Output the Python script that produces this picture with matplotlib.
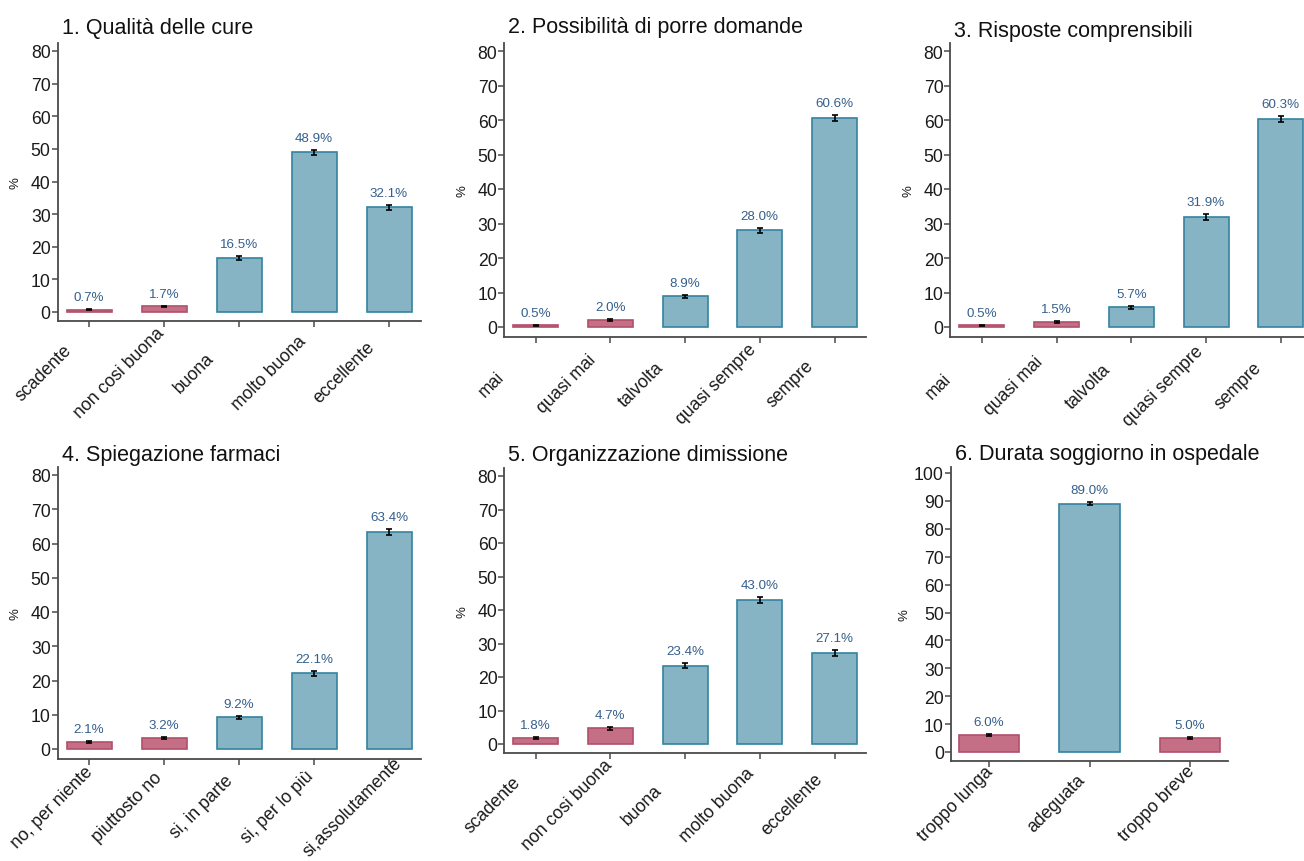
import matplotlib
matplotlib.use("Agg")
import matplotlib.pyplot as plt
from matplotlib.transforms import ScaledTranslation

plt.rcParams["font.family"] = ["Liberation Sans", "DejaVu Sans"]

# ---------------------------------------------------------------- data
titles = [
    "1. Qualità delle cure",
    "2. Possibilità di porre domande",
    "3. Risposte comprensibili",
    "4. Spiegazione farmaci",
    "5. Organizzazione dimissione",
    "6. Durata soggiorno in ospedale",
]

cat_qualita = ["scadente", "non cosi buona", "buona", "molto buona", "eccellente"]
cat_frequenza = ["mai", "quasi mai", "talvolta", "quasi sempre", "sempre"]
cat_farmaci = ["no, per niente", "piuttosto no", "si, in parte", "si, per lo più",
               "si,assolutamente"]
cat_durata = ["troppo lunga", "adeguata", "troppo breve"]

pct_cure = [0.7, 1.7, 16.5, 48.9, 32.1]
pct_domande = [0.5, 2.0, 8.9, 28.0, 60.6]
pct_risposte = [0.5, 1.5, 5.7, 31.9, 60.3]
pct_farmaci = [2.1, 3.2, 9.2, 22.1, 63.4]
pct_dimissione = [1.8, 4.7, 23.4, 43.0, 27.1]
pct_durata = [6.0, 89.0, 5.0]

# half-width of the confidence interval, in percentage points
ci_cure = [0.15, 0.25, 0.6, 0.85, 0.8]
ci_domande = [0.15, 0.25, 0.5, 0.8, 0.85]
ci_risposte = [0.15, 0.22, 0.4, 0.8, 0.85]
ci_farmaci = [0.25, 0.3, 0.5, 0.8, 0.9]
ci_dimissione = [0.25, 0.4, 0.8, 0.95, 0.85]
ci_durata = [0.4, 0.5, 0.4]

negative_answers = {"scadente", "non cosi buona", "mai", "quasi mai",
                    "no, per niente", "piuttosto no", "troppo lunga", "troppo breve"}

panels = [
    (titles[0], cat_qualita, pct_cure, ci_cure),
    (titles[1], cat_frequenza, pct_domande, ci_domande),
    (titles[2], cat_frequenza, pct_risposte, ci_risposte),
    (titles[3], cat_farmaci, pct_farmaci, ci_farmaci),
    (titles[4], cat_qualita, pct_dimissione, ci_dimissione),
    (titles[5], cat_durata, pct_durata, ci_durata),
]

# ---------------------------------------------------------------- style
W, H, DPI = 1304, 862, 100
POS_FILL, POS_EDGE = "#87b4c4", "#3383a0"
NEG_FILL, NEG_EDGE = "#c56f86", "#b24f6b"
VALUE_COLOR = "#355f8c"
AXIS_COLOR = "#4a4a4a"
TICK_PX = 6

# per panel: bar-0 centre px, bar spacing px, y=0 px, px of top tick, top tick,
#            title baseline px, y-label centre distance from spine px,
#            category label centre offset from its tick (px left, px below spine)
layout = [
    (89.0, 75.0, 313.0, 52.0, 80, 34.0, 42, (-45, 51)),
    (535.7, 74.7, 328.0, 52.0, 80, 33.0, 42, (-44, 47)),
    (981.7, 74.8, 328.0, 52.0, 80, 36.5, 42, (-43, 49)),
    (89.0, 75.0, 750.0, 476.0, 80, 461.5, 42, (-37, 48)),
    (535.7, 74.7, 745.0, 477.0, 80, 461.5, 42, (-43, 51)),
    (989.0, 100.5, 753.0, 474.0, 100, 460.5, 46, (-33, 42)),
]

fig = plt.figure(figsize=(W / DPI, H / DPI), dpi=DPI)
fig.patch.set_facecolor("white")

for (title, cats, vals, errs), (x0, dx, y0, ytp, ttop, tbase, ylab, (lx, ly)) in zip(panels, layout):
    n = len(cats)
    xlim = (-0.42, n - 1 + 0.42) if n > 3 else (-0.38, n - 1 + 0.38)
    ylim = (-2.8, 82.4) if ttop == 80 else (-3.3, 102.2)
    scale = (y0 - ytp) / ttop
    left = x0 + xlim[0] * dx
    right = x0 + xlim[1] * dx
    top = y0 - ylim[1] * scale
    bottom = y0 - ylim[0] * scale
    ax = fig.add_axes([left / W, 1 - bottom / H, (right - left) / W, (bottom - top) / H])
    axw = right - left

    x = list(range(n))
    fills = [NEG_FILL if c in negative_answers else POS_FILL for c in cats]
    edges = [NEG_EDGE if c in negative_answers else POS_EDGE for c in cats]
    ax.bar(x, vals, width=0.6, color=fills, edgecolor=edges, linewidth=1.2, zorder=2)
    ax.errorbar(x, vals, yerr=errs, fmt="none", ecolor="black", elinewidth=1.2,
                capsize=2.5, capthick=1.2, zorder=3)
    for xi, v, e in zip(x, vals, errs):
        ax.annotate(f"{v:.1f}%", (xi, v + e), xytext=(0, 6.5), textcoords="offset points",
                    ha="center", va="baseline", fontsize=9.6, color=VALUE_COLOR)

    ax.set_xlim(*xlim)
    ax.set_ylim(*ylim)
    ax.set_yticks(range(0, ttop + 1, 10))
    ax.set_xticks(x)
    ax.set_xticklabels(cats, rotation=45, ha="center", va="center",
                       rotation_mode="anchor")

    for side in ("top", "right"):
        ax.spines[side].set_visible(False)
    for side in ("left", "bottom"):
        ax.spines[side].set_color(AXIS_COLOR)
        ax.spines[side].set_linewidth(1.3)
    ax.tick_params(axis="both", length=TICK_PX * 72 / DPI, width=1.1, color=AXIS_COLOR,
                   labelsize=12.7, labelcolor="#1a1a1a")
    ax.tick_params(axis="y", pad=0.6)
    ax.tick_params(axis="x", pad=(ly - TICK_PX) * 72 / DPI)
    shift = ScaledTranslation(lx / DPI, 0, fig.dpi_scale_trans)
    for lab in ax.get_xticklabels():
        lab.set_transform(lab.get_transform() + shift)

    ax.set_ylabel("%", fontsize=9.5, color="#1a1a1a")
    ax.yaxis.set_label_coords(-(ylab - 6) / axw, 0.5)

    ax.set_title(title, loc="left", fontsize=15.5, color="#111111", x=4 / axw,
                 pad=(top - tbase) * 72 / DPI)

fig.savefig("out.png", dpi=DPI, facecolor="white")
